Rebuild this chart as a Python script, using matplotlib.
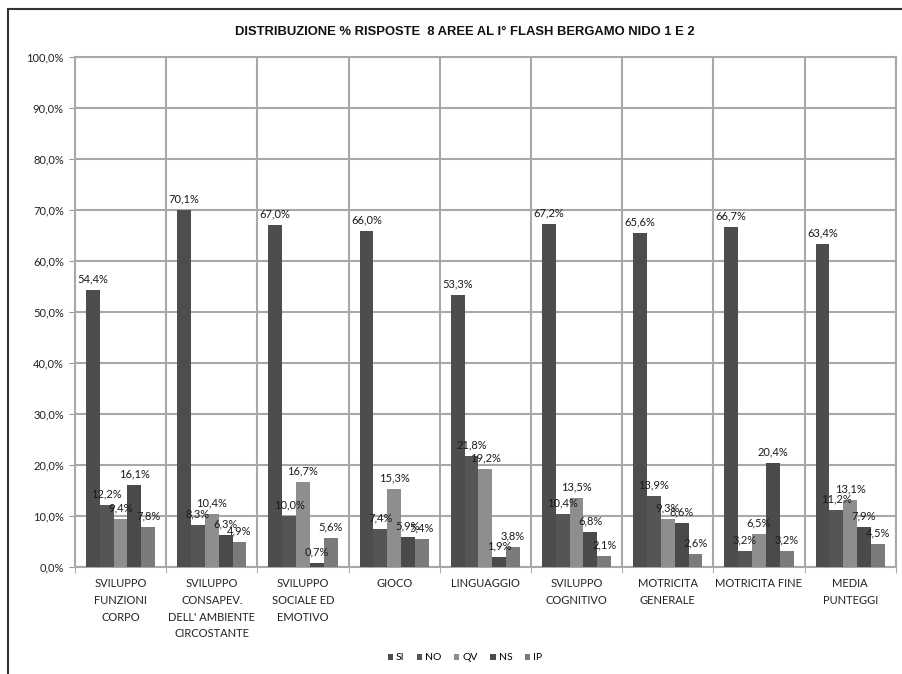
import matplotlib.pyplot as plt
import numpy as np
from matplotlib.patches import Rectangle

categories = ["SVILUPPO\nFUNZIONI\nCORPO", "SVILUPPO\nCONSAPEV.\nDELL' AMBIENTE\nCIRCOSTANTE",
              "SVILUPPO\nSOCIALE ED\nEMOTIVO", "GIOCO", "LINGUAGGIO", "SVILUPPO\nCOGNITIVO",
              "MOTRICITA\nGENERALE", "MOTRICITA FINE", "MEDIA\nPUNTEGGI"]
si = [54.4, 70.1, 67.0, 66.0, 53.3, 67.2, 65.6, 66.7, 63.4]
no = [12.2, 8.3, 10.0, 7.4, 21.8, 10.4, 13.9, 3.2, 11.2]
qv = [9.4, 10.4, 16.7, 15.3, 19.2, 13.5, 9.3, 6.5, 13.1]
ns = [16.1, 6.3, 0.7, 5.9, 1.9, 6.8, 8.6, 20.4, 7.9]
ip = [7.8, 4.9, 5.6, 5.4, 3.8, 2.1, 2.6, 3.2, 4.5]
series_names = ["SI", "NO", "QV", "NS", "IP"]

series = [si, no, qv, ns, ip]
colors = ["#4d4d4d", "#555555", "#8e8e8e", "#4a4a4a", "#7b7b7b"]

plt.rcParams['font.family'] = ['Lato', 'DejaVu Sans']

fig = plt.figure(figsize=(9.03, 6.74), dpi=100)
ax = fig.add_axes([0.083, 0.159, 0.909, 0.756])

x = np.arange(len(categories))
w = 0.152
for i, (vals, c) in enumerate(zip(series, colors)):
    pos = x + (i - 2) * w
    ax.bar(pos, vals, width=w, color=c, label=series_names[i], zorder=3)
    for px, v in zip(pos, vals):
        ax.annotate(f"{v:.1f}%".replace(".", ","), (px, v), xytext=(0, 4),
                    textcoords="offset points", ha="center", va="bottom",
                    fontsize=8, color="#1a1a1a", zorder=4)

ax.set_xlim(-0.5, len(categories) - 0.5)
ax.set_ylim(0, 100)
ax.set_yticks(np.arange(0, 101, 10))
ax.set_yticklabels([f"{t:.1f}%".replace(".", ",") for t in np.arange(0, 101, 10)],
                   fontsize=8, color="#222222")
ax.set_xticks(x)
ax.set_xticklabels(categories, fontsize=8, color="#222222", linespacing=1.65)
ax.set_xticks(np.arange(-0.5, len(categories)), minor=True)
ax.tick_params(axis="x", which="major", length=0, pad=8)
ax.tick_params(axis="x", which="minor", length=4, color="#999999")
ax.tick_params(axis="y", length=4, color="#999999", pad=4)

ax.grid(axis="y", color="#a8a8a8", linewidth=1.5, zorder=0)
ax.grid(axis="x", which="minor", color="#a8a8a8", linewidth=1.5, zorder=0)
for s in ax.spines.values():
    s.set_color("#a8a8a8")
    s.set_linewidth(1.5)

fig.text(0.515, 0.952, "DISTRIBUZIONE % RISPOSTE  8 AREE AL I° FLASH BERGAMO NIDO 1 E 2",
         ha="center", va="center", fontsize=9.4, fontweight="bold",
         family=['Liberation Sans', 'DejaVu Sans'], color="#111111")

ax.legend(loc="center", bbox_to_anchor=(0.515, 0.024), bbox_transform=fig.transFigure,
          ncol=5, frameon=False, fontsize=7.5, handlelength=0.5, handleheight=0.5,
          handletextpad=0.3, columnspacing=1.2)

# outer chart frame (only top and left edges fall inside the image)
fig.patches.append(Rectangle((0.009, -0.1), 1.2, 1.087, transform=fig.transFigure,
                             fill=False, edgecolor="#333333", linewidth=1.5))

fig.savefig("out.png", dpi=100)
